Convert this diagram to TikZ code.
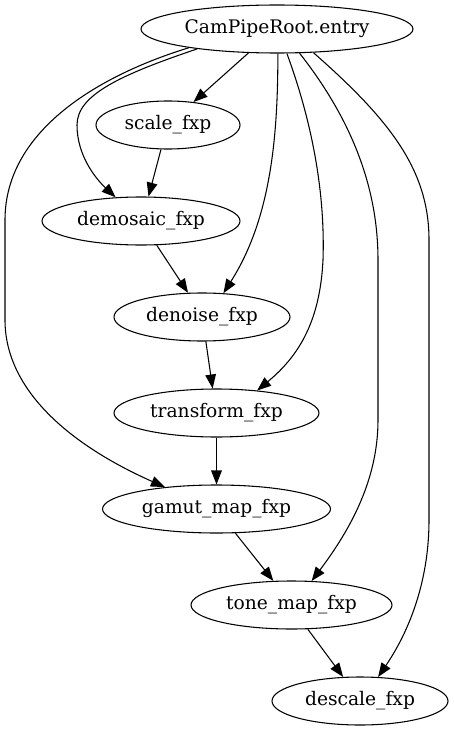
\documentclass[tikz,border=0pt]{standalone}
\usepackage{fontspec}
\newfontfamily\stagefont{DejaVu Serif}
\usetikzlibrary{shapes.geometric,arrows.meta}
\begin{document}
\begin{tikzpicture}[x=0.75pt,y=-0.75pt,
  stage/.style={draw, ellipse, inner sep=0pt, minimum height=36pt,
    line width=0.8pt, font=\stagefont\fontsize{14}{16}\selectfont},
  flow/.style={draw, line width=0.8pt, -{Triangle[length=10.5pt,width=8pt]}}]
\useasboundingbox (0,0) rectangle (453,731);

% pipeline stages
\node[stage, minimum width=204pt]   (root)      at (277,29)    {CamPipeRoot.entry};
\node[stage, minimum width=108pt]   (scale)     at (168,125)   {scale\_fxp};
\node[stage, minimum width=148.5pt] (demosaic)  at (141,221)   {demosaic\_fxp};
\node[stage, minimum width=132pt]   (denoise)   at (202,317)   {denoise\_fxp};
\node[stage, minimum width=153.75pt](transform) at (216.5,413) {transform\_fxp};
\node[stage, minimum width=171pt]   (gamut)     at (216.5,509) {gamut\_map\_fxp};
\node[stage, minimum width=150.75pt](tone)      at (291.5,605) {tone\_map\_fxp};
\node[stage, minimum width=132pt]   (descale)   at (360,701)   {descale\_fxp};

% chain between consecutive stages
\draw[flow] (root.220.6) -- (scale.42.6);
\draw[flow] (scale.254.4) -- (demosaic.73.7);
\draw[flow] (demosaic.303.7) -- (denoise.120.3);
\draw[flow] (denoise.279.1) -- (transform.99.5);
\draw[flow] (transform.south) -- (gamut.north);
\draw[flow] (gamut.308.4) -- (tone.127.6);
\draw[flow] (tone.304.5) -- (descale.125.3);

% direct calls from the entry point
\draw[flow] (root.194.6) .. controls (120,75) and (77,95) .. (77,125)
  .. controls (77,155) and (95,178) .. (demosaic.137.3);
\draw[flow] (root.192) .. controls (100,75) and (5,130) .. (5,220) -- (5,320)
  .. controls (5,390) and (70,445) .. (gamut.157.5);
\draw[flow] (root.272.4) .. controls (278,140) and (270,220) .. (denoise.48.8);
\draw[flow] (root.292.6) .. controls (315,130) and (325,200) .. (323,260)
  .. controls (320,320) and (300,355) .. (transform.29.3);
\draw[flow] (root.313.8) .. controls (360,130) and (378,200) .. (378,260) -- (378,420)
  .. controls (378,480) and (350,530) .. (tone.50.6);
\draw[flow] (root.327.4) .. controls (390,120) and (429,170) .. (429,240) -- (429,520)
  .. controls (429,580) and (410,630) .. (descale.53.1);
\end{tikzpicture}
\end{document}
